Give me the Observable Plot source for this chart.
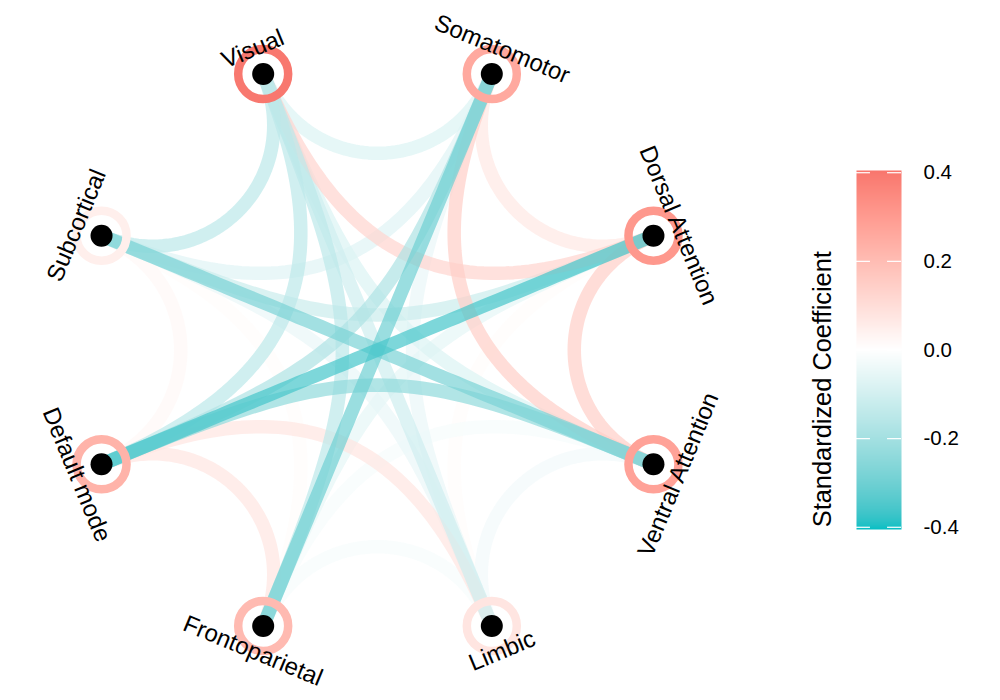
<!DOCTYPE html>
<html><head><meta charset="utf-8">
<script src="https://cdn.jsdelivr.net/npm/d3@7"></script>
<script src="https://cdn.jsdelivr.net/npm/@observablehq/plot@0.6"></script>
<style>
body{margin:0;background:#fff;font-family:"Liberation Sans",Arial,sans-serif;}
#wrap{position:relative;width:1000px;height:700px;overflow:hidden;}
#wrap svg{position:absolute;top:0;}
</style></head><body><div id="wrap"></div>
<script>
// ---- data ----
const networks = ["Visual","Somatomotor","Dorsal Attention","Ventral Attention","Limbic","Frontoparietal","Default mode","Subcortical"];
const selfCoef = [0.40, 0.26, 0.31, 0.28, 0.08, 0.21, 0.23, 0.05];
const edgeFrom = ["Visual","Visual","Visual","Visual","Visual","Visual","Visual",
  "Somatomotor","Somatomotor","Somatomotor","Somatomotor","Somatomotor","Somatomotor",
  "Dorsal Attention","Dorsal Attention","Dorsal Attention","Dorsal Attention","Dorsal Attention",
  "Ventral Attention","Ventral Attention","Ventral Attention","Ventral Attention",
  "Limbic","Limbic","Limbic","Frontoparietal","Frontoparietal","Default mode"];
const edgeTo = ["Somatomotor","Dorsal Attention","Ventral Attention","Limbic","Frontoparietal","Default mode","Subcortical",
  "Dorsal Attention","Ventral Attention","Limbic","Frontoparietal","Default mode","Subcortical",
  "Ventral Attention","Limbic","Frontoparietal","Default mode","Subcortical",
  "Limbic","Frontoparietal","Default mode","Subcortical",
  "Frontoparietal","Default mode","Subcortical","Default mode","Subcortical","Subcortical"];
const edgeCoef = [-0.08, 0.13, -0.08, -0.11, -0.15, -0.15, -0.15,
  0.07, 0.15, -0.05, -0.30, -0.18, -0.07,
  0.15, 0.01, -0.06, -0.36, -0.12,
  -0.03, -0.02, -0.24, -0.28,
  -0.02, 0.08, -0.05, 0.08, 0.01, 0.02];
const legendTicks = [-0.4, -0.2, 0.0, 0.2, 0.4];
const legendTitle = "Standardized Coefficient";
const colorLimits = [-0.405, 0, 0.405];

// ---- layout (circular, ggraph-like) ----
const W = 1000, H = 700, cx = 377, cy = 349.5, Rpx = 298.7;
const nodes = networks.map((name, i) => {
  const a = (112.5 - 45 * i) * Math.PI / 180;
  let rot = -22.5 + 45 * i;           // clockwise angle from top
  while (rot > 90) rot -= 180;
  while (rot <= -90) rot += 180;
  return {name, x: Math.cos(a), y: Math.sin(a), self: selfCoef[i], rot};
});
const byName = new Map(nodes.map(d => [d.name, d]));

// arc edges: cubic bezier with control points on the node radii
const edgePts = [];
const order = d3.range(edgeCoef.length).sort((a, b) => Math.abs(edgeCoef[a]) - Math.abs(edgeCoef[b]));
order.forEach((k) => {
  const p0 = byName.get(edgeFrom[k]), p3 = byName.get(edgeTo[k]);
  const dist = Math.hypot(p3.x - p0.x, p3.y - p0.y);
  const kr = 1 - dist / 2;
  const c1 = {x: p0.x * kr, y: p0.y * kr}, c2 = {x: p3.x * kr, y: p3.y * kr};
  for (let j = 0; j <= 60; j++) {
    const t = j / 60, u = 1 - t;
    edgePts.push({
      id: k, v: edgeCoef[k],
      x: u*u*u*p0.x + 3*u*u*t*c1.x + 3*u*t*t*c2.x + t*t*t*p3.x,
      y: u*u*u*p0.y + 3*u*u*t*c1.y + 3*u*t*t*c2.y + t*t*t*p3.y
    });
  }
});

const colorScale = {type: "linear", domain: colorLimits, range: ["#00BFC4", "#FFFFFF", "#F8766D"], interpolate: d3.interpolateLab};
const labR = 1 + 27 / Rpx;
const font = '"Liberation Sans", Arial, sans-serif';

const main = Plot.plot({
  width: W, height: H, margin: 0,
  style: {fontFamily: font, background: "transparent"},
  x: {domain: [-cx / Rpx, (W - cx) / Rpx], range: [0, W], axis: null},
  y: {domain: [-(H - cy) / Rpx, cy / Rpx], range: [H, 0], axis: null},
  color: colorScale,
  marks: [
    Plot.line(edgePts, {x: "x", y: "y", z: "id", stroke: "v", strokeWidth: 13.5, strokeOpacity: 0.7, strokeLinecap: "butt", curve: "linear"}),
    Plot.dot(nodes, {x: "x", y: "y", r: 25, stroke: "self", strokeWidth: 8.5, fill: "none"}),
    Plot.dot(nodes, {x: "x", y: "y", r: 11, fill: "black", stroke: "none"}),
    Plot.text(nodes, {x: d => d.x * labR, y: d => d.y * labR, text: "name", rotate: "rot", fontSize: 24, fill: "black", textAnchor: "middle", lineAnchor: "middle"})
  ]
});

// ---- colorbar legend ----
const legend = Plot.plot({
  width: 220, height: H, marginLeft: 76, marginRight: 99, marginTop: 170, marginBottom: 171,
  style: {fontFamily: font, background: "transparent", color: "black"},
  x: {domain: [0, 1], axis: null},
  y: {domain: [colorLimits[0], colorLimits[2]], axis: null},
  color: colorScale,
  marks: [
    Plot.raster({x1: 0, x2: 1, y1: colorLimits[0], y2: colorLimits[2], width: 1, height: 360, fill: (x, y) => y, imageRendering: "auto"}),
    Plot.ruleY(legendTicks, {x1: 0, x2: 0.31, stroke: "white", strokeWidth: 1.2}),
    Plot.ruleY(legendTicks, {x1: 0.69, x2: 1, stroke: "white", strokeWidth: 1.2}),
    Plot.axisY(legendTicks, {anchor: "right", tickSize: 0, tickPadding: 22, tickFormat: d => d.toFixed(1), fontSize: 20.5, fill: "black"}),
    Plot.text([legendTitle], {x: -0.75, y: -0.4, text: d => d, rotate: -90, textAnchor: "start", lineAnchor: "middle", fontSize: 25.4, fill: "black"})
  ]
});
legend.style.left = "780px";
main.style.left = "0px";
const wrap = document.getElementById("wrap");
wrap.appendChild(main);
wrap.appendChild(legend);
</script></body></html>
